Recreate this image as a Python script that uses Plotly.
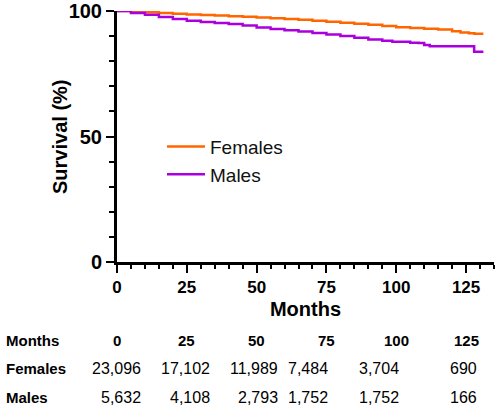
import plotly.graph_objects as go

# ---- data ----
female_months = [0, 5, 10, 15, 20, 25, 30, 35, 40, 45, 50, 55, 60, 65, 70, 75, 80, 85, 90, 95,
                 100, 105, 110, 115, 120, 123, 126, 128, 131.2]
female_surv = [100, 99.8, 99.5, 99.2, 98.9, 98.6, 98.4, 98.2, 97.9, 97.7, 97.4, 97.1, 96.8, 96.5,
               96.1, 95.7, 95.3, 94.9, 94.5, 94.0, 93.5, 93.2, 92.9, 92.6, 91.9, 91.4, 91.1, 90.9, 90.9]

male_months = [0, 5, 10, 15, 20, 25, 30, 35, 40, 45, 50, 55, 60, 65, 70, 75, 80, 85, 90, 95,
               98.6, 105, 108, 110, 112, 127.9, 131.2]
male_surv = [100, 99.2, 98.5, 97.6, 96.8, 96.1, 95.6, 95.2, 94.8, 94.2, 93.4, 92.8, 92.3, 91.8,
             91.2, 90.6, 90.0, 89.3, 88.6, 88.1, 87.7, 87.4, 87.3, 86.5, 86.0, 83.8, 83.8]

table_months = [0, 25, 50, 75, 100, 125]
females_at_risk = ["23,096", "17,102", "11,989", "7,484", "3,704", "690"]
males_at_risk = ["5,632", "4,108", "2,793", "1,752", "1,752", "166"]
row_labels = ["Months", "Females", "Males"]

# ---- layout constants ----
FONT = "Liberation Sans, Arial, Helvetica, sans-serif"
ORANGE = "#FF6600"
PURPLE = "#AA00DD"
# right edges (in month units) for at-risk numbers
num_right = [9.3, 34.0, 58.3, 76.2, 101.8, 129.6]

fig = go.Figure()
fig.add_trace(go.Scatter(x=female_months, y=female_surv, mode="lines", name="Females",
                         line=dict(color=ORANGE, width=2.5, shape="hv"), cliponaxis=False))
fig.add_trace(go.Scatter(x=male_months, y=male_surv, mode="lines", name="Males",
                         line=dict(color=PURPLE, width=2.5, shape="hv"), cliponaxis=False))

W, H = 500, 408
L, R, T, B = 117, 6, 11, 146
ph = H - T - B
pw = W - L - R

def ypaper(py):
    return (H - B - py) / ph

ann = []
rows_y = [340, 368, 397]
for lab, py in zip(row_labels, rows_y):
    ann.append(dict(x=(4 - L) / pw, y=ypaper(py), xref="paper", yref="paper",
                    text="<b>%s</b>" % lab, showarrow=False, xanchor="left", yanchor="middle",
                    font=dict(family=FONT, size=15, color="black")))
for m in table_months:
    ann.append(dict(x=m, y=ypaper(rows_y[0]), xref="x", yref="paper", text="<b>%d</b>" % m,
                    showarrow=False, xanchor="center", yanchor="middle",
                    font=dict(family=FONT, size=15, color="black")))
for xr, f, mm in zip(num_right, females_at_risk, males_at_risk):
    ann.append(dict(x=xr, y=ypaper(rows_y[1]), xref="x", yref="paper", text=f,
                    showarrow=False, xanchor="right", yanchor="middle",
                    font=dict(family=FONT, size=16, color="black")))
    ann.append(dict(x=xr, y=ypaper(rows_y[2]), xref="x", yref="paper", text=mm,
                    showarrow=False, xanchor="right", yanchor="middle",
                    font=dict(family=FONT, size=16, color="black")))
# y-axis title
ann.append(dict(x=(60 - L) / pw, y=ypaper(137), xref="paper", yref="paper",
                text="<b>Survival (%)</b>", textangle=-90, showarrow=False,
                xanchor="center", yanchor="middle",
                font=dict(family=FONT, size=20, color="black")))

fig.update_layout(
    width=W, height=H,
    margin=dict(l=L, r=R, t=T, b=B, pad=0, autoexpand=False),
    paper_bgcolor="white", plot_bgcolor="white",
    font=dict(family=FONT, color="black"),
    showlegend=True,
    legend=dict(x=(162 - L) / pw, y=0.404, xanchor="left", yanchor="middle",
                font=dict(family=FONT, size=19, color="#111"),
                bgcolor="rgba(0,0,0,0)", itemwidth=38, tracegroupgap=0),
    annotations=ann,
    xaxis=dict(range=[0, 135], showgrid=False, zeroline=False, automargin=False,
               showline=True, linewidth=3, linecolor="black",
               tickmode="array", tickvals=table_months,
               ticks="outside", ticklen=8, tickwidth=2, tickcolor="black",
               tickfont=dict(family=FONT, size=17, color="black", weight="bold"),
               minor=dict(dtick=5, tick0=0, ticks="outside", ticklen=4, tickwidth=2, tickcolor="black"),
               title=dict(text="<b>Months</b>", font=dict(family=FONT, size=20, color="black"),
                          standoff=6)),
    yaxis=dict(range=[0, 100], showgrid=False, zeroline=False, automargin=False,
               showline=True, linewidth=3, linecolor="black",
               tickmode="array", tickvals=[0, 50, 100],
               ticks="outside", ticklen=8, tickwidth=2, tickcolor="black",
               tickfont=dict(family=FONT, size=20, color="black", weight="bold"),
               minor=dict(dtick=10, tick0=0, ticks="outside", ticklen=5, tickwidth=2, tickcolor="black")),
)

fig.write_html("out.html", config={"displayModeBar": False},
               post_script="document.body.style.margin='0';document.body.style.overflow='hidden';")
